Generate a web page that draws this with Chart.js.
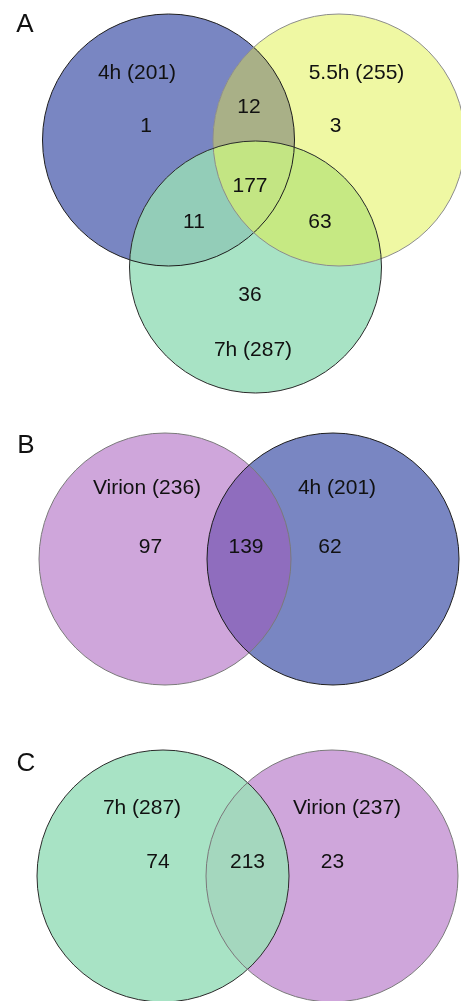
<!DOCTYPE html>
<html>
<head>
<meta charset="utf-8">
<script src="https://cdn.jsdelivr.net/npm/chart.js@4.4.0/dist/chart.umd.min.js"></script>
<style>
  html, body { margin: 0; padding: 0; background: #ffffff; }
  #wrap { position: relative; width: 461px; height: 1001px; overflow: hidden; }
  #wrap canvas { position: absolute; left: 0; }
</style>
</head>
<body>
<div id="wrap">
  <canvas id="vennA" width="461" height="400" style="top:0px"></canvas>
  <canvas id="vennB" width="461" height="300" style="top:400px"></canvas>
  <canvas id="vennC" width="461" height="301" style="top:700px"></canvas>
</div>
<script>
// ---- Set sizes and region counts ----
// Region masks: bit 0 = first set, bit 1 = second set, bit 2 = third set.
const panelLetters = ['A', 'B', 'C'];

const setNamesA = ['4h', '5.5h', '7h'];
const setTotalsA = [201, 255, 287];
const regionMasksA = [1, 2, 4, 3, 5, 6, 7];
const regionCountsA = [1, 3, 36, 12, 11, 63, 177];

const setNamesB = ['Virion', '4h'];
const setTotalsB = [236, 201];
const regionMasksB = [1, 2, 3];
const regionCountsB = [97, 62, 139];

const setNamesC = ['7h', 'Virion'];
const setTotalsC = [287, 237];
const regionMasksC = [1, 2, 3];
const regionCountsC = [74, 23, 213];

// ---- Drawing layout (page units, one unit = one CSS pixel) ----
const BLUE = '#7986c2', YELLOW = '#eff8a3', GREEN = '#a8e3c5', PINK = '#cfa6db';

const layouts = [
  {
    canvas: 'vennA', top: 0, height: 400, radius: 126,
    letterAt: [25, 32],
    centers: [[168.5, 140], [339, 140], [255.5, 267]],
    fills: [BLUE, YELLOW, GREEN],
    strokes: ['#1e1e1e', '#8c8c8c', '#2a2a2a'],
    overlapMasks: [3, 5, 6, 7],
    overlapFills: ['#a9b087', '#93cdb8', '#c6e983', '#c3e583'],
    nameAt: [[137, 79], [356.5, 79], [253, 356]],
    countAt: [[146, 132], [335.5, 132], [250, 301], [249, 113], [194, 228], [320, 228], [250, 192]],
    names: setNamesA, totals: setTotalsA, masks: regionMasksA, counts: regionCountsA
  },
  {
    canvas: 'vennB', top: 400, height: 300, radius: 126,
    letterAt: [26, 453],
    centers: [[165, 559], [333, 559]],
    fills: [PINK, BLUE],
    strokes: ['#7a7a7a', '#1e1e1e'],
    overlapMasks: [3],
    overlapFills: ['#8f6dbe'],
    nameAt: [[147, 494], [337, 494]],
    countAt: [[150.5, 553], [330, 553], [246, 553]],
    names: setNamesB, totals: setTotalsB, masks: regionMasksB, counts: regionCountsB
  },
  {
    canvas: 'vennC', top: 700, height: 301, radius: 126,
    letterAt: [26, 771],
    centers: [[163, 876], [332, 876]],
    fills: [GREEN, PINK],
    strokes: ['#2a2a2a', '#7a7a7a'],
    overlapMasks: [3],
    overlapFills: ['#a4d7be'],
    nameAt: [[142, 814], [347, 814]],
    countAt: [[158, 868], [332.5, 868], [247.5, 868]],
    names: setNamesC, totals: setTotalsC, masks: regionMasksC, counts: regionCountsC
  }
];

const LABEL_FONT = '21px "Liberation Sans", Arial, Helvetica, sans-serif';
const LETTER_FONT = '26px "Liberation Sans", Arial, Helvetica, sans-serif';

// Paints overlap regions, circle outlines and all text of one panel.
const vennPanel = {
  id: 'vennPanel',
  afterDatasetsDraw(chart, args, opts) {
    const L = opts.layout;
    const ctx = chart.ctx;
    const sx = chart.scales.x, sy = chart.scales.y;
    const circles = chart.getDatasetMeta(0).data.map(p => ({ x: p.x, y: p.y, r: p.options.radius }));
    const ready = circles.every(c => c.r > 0);

    if (ready) {
      // overlap regions: intersect the clip of every member circle
      L.overlapMasks.forEach((mask, k) => {
        ctx.save();
        circles.forEach((c, i) => {
          if (mask & (1 << i)) {
            ctx.beginPath();
            ctx.arc(c.x, c.y, c.r, 0, Math.PI * 2);
            ctx.clip();
          }
        });
        ctx.fillStyle = L.overlapFills[k];
        ctx.fillRect(0, 0, chart.width, chart.height);
        ctx.restore();
      });

      // outlines
      ctx.save();
      ctx.lineWidth = 1;
      circles.forEach((c, i) => {
        ctx.beginPath();
        ctx.arc(c.x, c.y, c.r, 0, Math.PI * 2);
        ctx.strokeStyle = L.strokes[i];
        ctx.stroke();
      });
      ctx.restore();
    }

    // text
    ctx.save();
    ctx.fillStyle = '#111111';
    ctx.textAlign = 'center';
    ctx.textBaseline = 'alphabetic';
    ctx.font = LETTER_FONT;
    ctx.fillText(L.letter, sx.getPixelForValue(L.letterAt[0]), sy.getPixelForValue(L.letterAt[1]));
    ctx.font = LABEL_FONT;
    L.names.forEach((n, i) => {
      ctx.fillText(n + ' (' + L.totals[i] + ')', sx.getPixelForValue(L.nameAt[i][0]), sy.getPixelForValue(L.nameAt[i][1]));
    });
    L.counts.forEach((v, i) => {
      ctx.fillText(String(v), sx.getPixelForValue(L.countAt[i][0]), sy.getPixelForValue(L.countAt[i][1]));
    });
    ctx.restore();
  }
};

layouts.forEach((L, idx) => {
  L.letter = panelLetters[idx];
  const chart = new Chart(document.getElementById(L.canvas), {
    type: 'bubble',
    data: {
      datasets: [{
        label: L.names.join(' / '),
        data: L.centers.map(c => ({ x: c[0], y: c[1], r: 0 })),
        backgroundColor: L.fills,
        borderWidth: 0,
        hoverRadius: 0,
        clip: false
      }]
    },
    options: {
      responsive: false,
      animation: false,
      events: [],
      layout: { padding: 0, autoPadding: false },
      scales: {
        x: { type: 'linear', min: 0, max: 461, display: false },
        y: { type: 'linear', min: L.top, max: L.top + L.height, reverse: true, display: false }
      },
      plugins: {
        legend: { display: false },
        tooltip: { enabled: false },
        vennPanel: { layout: L }
      }
    },
    plugins: [vennPanel]
  });
  // bubble radius: the layout radius measured along the fitted x scale
  const sx = chart.scales.x;
  const rPx = sx.getPixelForValue(L.radius) - sx.getPixelForValue(0);
  chart.data.datasets[0].data = L.centers.map(c => ({ x: c[0], y: c[1], r: rPx }));
  chart.update();
});
</script>
</body>
</html>
